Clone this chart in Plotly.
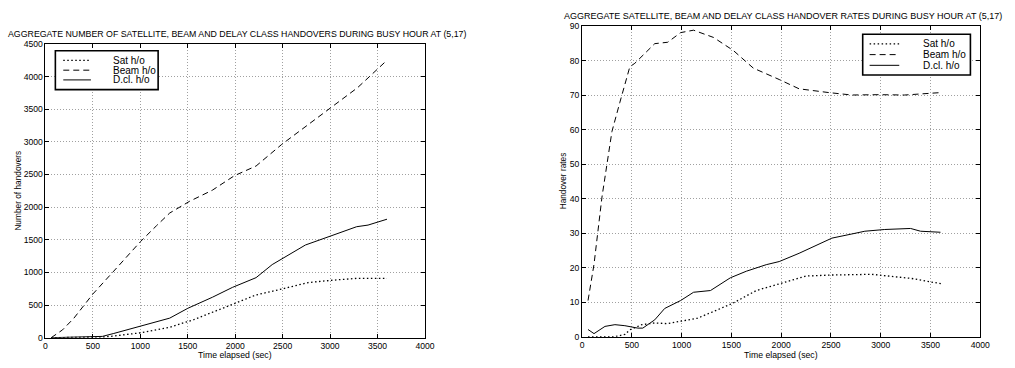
import plotly.graph_objects as go

# ---------------- Text ----------------
left_title = "AGGREGATE NUMBER OF SATELLITE, BEAM AND DELAY CLASS HANDOVERS DURING BUSY HOUR AT (5,17)"
right_title = "AGGREGATE SATELLITE, BEAM AND DELAY CLASS HANDOVER RATES DURING BUSY HOUR AT (5,17)"
x_label = "Time elapsed (sec)"
left_y_label = "Number of handovers"
right_y_label = "Handover rates"
series_names = ["Sat h/o", "Beam h/o", "D.cl. h/o"]

# ---------------- Left chart: aggregate numbers ----------------
num_beam_t = [60, 180, 300, 500, 720, 1000, 1170, 1310, 1520, 1760, 1990, 2220, 2490, 2740, 3020, 3290, 3600]
num_beam_v = [0, 120, 300, 670, 1020, 1470, 1715, 1910, 2090, 2260, 2480, 2630, 2960, 3230, 3530, 3830, 4250]

num_dcl_t = [60, 300, 600, 720, 1000, 1170, 1310, 1500, 1760, 1970, 2220, 2390, 2560, 2740, 3020, 3280, 3400, 3600]
num_dcl_v = [0, 8, 20, 65, 175, 250, 300, 450, 620, 770, 920, 1120, 1270, 1420, 1565, 1700, 1725, 1815]

num_sat_t = [60, 300, 600, 720, 1000, 1310, 1560, 1970, 2220, 2490, 2770, 3020, 3290, 3600]
num_sat_v = [0, 3, 10, 25, 75, 160, 275, 510, 655, 745, 845, 880, 910, 910]

# ---------------- Right chart: rates ----------------
rate_beam_t = [60, 120, 200, 300, 380, 480, 530, 730, 860, 990, 1120, 1320, 1520, 1720, 1980, 2180, 2480, 2710, 2980, 3240, 3600]
rate_beam_v = [10.5, 21, 40.5, 59.5, 68, 78.3, 79.3, 85, 85.4, 88.2, 88.9, 86.8, 83, 77.9, 74.6, 71.9, 70.8, 70.1, 70.2, 70.1, 70.8]

rate_dcl_t = [60, 120, 230, 330, 430, 560, 610, 730, 830, 990, 1120, 1290, 1490, 1650, 1850, 1980, 2180, 2380, 2510, 2710, 2840, 3040, 3300, 3400, 3600]
rate_dcl_v = [2.1, 0.9, 3.0, 3.5, 3.2, 2.5, 2.5, 4.9, 8.2, 10.5, 12.9, 13.4, 17.1, 19.0, 20.9, 21.8, 24.2, 27.0, 28.6, 29.8, 30.6, 31.1, 31.4, 30.6, 30.3]

rate_sat_t = [60, 330, 430, 480, 600, 730, 860, 990, 1160, 1320, 1520, 1750, 1980, 2250, 2510, 2910, 3310, 3620]
rate_sat_v = [0, 0, 0.7, 2.0, 3.5, 4.0, 3.8, 4.4, 5.4, 7.3, 9.8, 13.4, 15.4, 17.6, 17.9, 18.1, 16.9, 15.3]

x_ticks = [0, 500, 1000, 1500, 2000, 2500, 3000, 3500, 4000]
left_y_ticks = [0, 500, 1000, 1500, 2000, 2500, 3000, 3500, 4000, 4500]
right_y_ticks = [0, 10, 20, 30, 40, 50, 60, 70, 80, 90]

W, H = 1015, 368
FONT = "Liberation Sans, Arial, Helvetica, sans-serif"
DASHES = ["1.5px,2.5px", "6px,4px", "solid"]
WIDTHS = [1.3, 1, 1]

fig = go.Figure()

def add_series(t, v, i, xa, ya):
    fig.add_trace(go.Scatter(
        x=t, y=v, mode="lines", name=series_names[i], showlegend=False,
        line=dict(color="black", width=WIDTHS[i], dash=DASHES[i]),
        xaxis=xa, yaxis=ya,
    ))

add_series(num_sat_t, num_sat_v, 0, "x", "y")
add_series(num_beam_t, num_beam_v, 1, "x", "y")
add_series(num_dcl_t, num_dcl_v, 2, "x", "y")

add_series(rate_sat_t, rate_sat_v, 0, "x2", "y2")
add_series(rate_beam_t, rate_beam_v, 1, "x2", "y2")
add_series(rate_dcl_t, rate_dcl_v, 2, "x2", "y2")

def px_x(p):
    return p / W

def px_y(p):
    return 1 - p / H

axis_common = dict(
    showline=True, linecolor="black", linewidth=1, mirror="ticks",
    ticks="inside", ticklen=4, tickcolor="black",
    showgrid=True, gridcolor="#a0a0a0", griddash="1px,2px", gridwidth=1,
    zeroline=False, tickfont=dict(size=8.6, color="black", family=FONT),
)

fig.update_layout(
    width=W, height=H,
    margin=dict(l=0, r=0, t=0, b=0),
    paper_bgcolor="white", plot_bgcolor="white",
    font=dict(family=FONT, color="black"),
    showlegend=False,
    xaxis=dict(domain=[px_x(44), px_x(428)], range=[0, 4000], tickvals=x_ticks, anchor="y", **axis_common),
    yaxis=dict(domain=[px_y(342), px_y(40)], range=[0, 4500], tickvals=left_y_ticks, anchor="x", **axis_common),
    xaxis2=dict(domain=[px_x(587), px_x(990)], range=[0, 4000], tickvals=x_ticks, anchor="y2", **axis_common),
    yaxis2=dict(domain=[px_y(341), px_y(22)], range=[0, 90], tickvals=right_y_ticks, anchor="x2", **axis_common),
)

def text(t, x, y, size, angle=0, xanchor="center", pad=1):
    fig.add_annotation(text=t, x=px_x(x), y=px_y(y), xref="paper", yref="paper",
                       xanchor=xanchor, yanchor="middle", showarrow=False, textangle=angle,
                       borderpad=pad,
                       font=dict(size=size, family=FONT, color="black"))

text(left_title, 237.5, 29.5, 8.8, pad=0)
text(right_title, 790, 11, 9.0, pad=0)
text(x_label, 236, 360, 8.7)
text(x_label, 788, 360, 8.7)
text(left_y_label, 16, 191, 8.3, angle=-90)
text(right_y_label, 568, 181, 8.3, angle=-90)

# ---------------- Legend boxes (drawn like the original MATLAB legends) ----------------
def legend_box(x0, y0, x1, y1, rows, sx0, sx1, tx):
    fig.add_shape(type="rect", xref="paper", yref="paper",
                  x0=px_x(x0), x1=px_x(x1), y0=px_y(y1), y1=px_y(y0),
                  line=dict(color="black", width=1.6), fillcolor="white", layer="above")
    for i, ry in enumerate(rows):
        fig.add_shape(type="line", xref="paper", yref="paper",
                      x0=px_x(sx0), x1=px_x(sx1), y0=px_y(ry), y1=px_y(ry),
                      line=dict(color="black", width=WIDTHS[i], dash=DASHES[i]), layer="above")
        text(series_names[i], tx, ry, 10, xanchor="left", pad=0)

legend_box(54, 47, 158, 87, [57, 67, 77], 62, 90, 111)
legend_box(871, 30, 980, 72, [40, 51, 62], 878, 908, 931)

fig.write_html("out.html")
